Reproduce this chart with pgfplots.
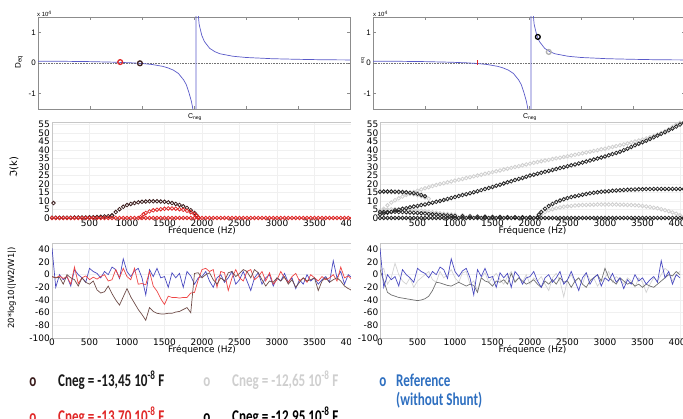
\documentclass[border=0pt]{standalone}
\usepackage{pgfplots}
\pgfplotsset{compat=1.18}
\usepackage{pgfplotstable}
\usepackage{graphicx}
\usepackage{fontspec}
\setmainfont{DejaVu Sans}
\newfontfamily\lib{Liberation Sans}
\newfontfamily\carl{Carlito}

\definecolor{dbrown}{HTML}{3A1C1C}
\definecolor{mred}{HTML}{E02828}
\definecolor{lgrey}{HTML}{CFCFCF}
\definecolor{dgrey}{HTML}{262626}
\definecolor{lblue}{HTML}{5A5AC8}
\definecolor{nblue}{HTML}{4A4AC0}
\definecolor{nred}{HTML}{EE4444}
\definecolor{nbrown}{HTML}{6E4C48}
\definecolor{ngrey}{HTML}{D2D2D2}
\definecolor{ndgrey}{HTML}{707070}
\definecolor{legblue}{HTML}{2E6FC0}

% 20*log10(|W2/W1|), one column per configuration
\pgfplotstableread{
f blue red brown lgrey dgrey
0 42 -3 -3 5 8
50 -20 -5 -5 10 -10
100 0 -2 -4 -15 -28
150 -8 -6 -15 -5 -32
200 -3 -3 0 18 -34
250 -18 -15 -5 0 -36
300 8 12 -8 -10 -37
350 0 -14 -18 -15 -38
400 -5 -5 -5 -5 -39
450 -12 -2 -12 -20 -40
500 10 -8 -15 -10 -41
550 5 -4 -10 -5 -40
600 2 -7 -24 0 -38
650 -5 -3 -29 5 -34
700 5 0 -27 -8 -25
750 0 -10 -18 -12 -12
800 12 -8 -30 5 -13
850 8 8 -40 -5 -15
900 -6 -5 -48 0 -17
950 25 10 -35 8 -18
1000 5 -3 -22 -5 -15
1050 -3 -8 -35 -12 -12
1100 6 10 -45 3 -15
1150 10 -15 -55 5 -18
1200 -5 -14 -63 -15 -15
1250 -32 -16 -72 -10 -17
1300 8 5 -52 -25 -28
1350 -3 -18 -58 -5 -5
1400 10 -26 -61 3 -10
1450 -5 -38 -62 -12 -12
1500 -3 -47 -62 -5 -18
1550 -20 -34 -61 2 -10
1600 3 -36 -61 -8 -12
1650 -5 -36 -59 -15 -8
1700 2 -37 -58 -3 -15
1750 -20 -36 -55 5 2
1800 5 -36 -52 -10 -12
1850 -2 -29 -60 -5 -5
1900 -15 -28 2 -12 -10
1950 -5 -8 3 0 -15
2000 -3 8 -5 -15 -12
2050 5 10 0 -5 -8
2100 -10 5 3 -10 -15
2150 -20 8 -8 -3 -20
2200 -5 -20 -15 -15 -10
2250 0 5 -5 -25 -15
2300 -12 3 -10 -5 -8
2350 -5 -25 3 2 -15
2400 5 -5 5 -10 -5
2450 -15 8 -3 -35 -12
2500 -8 -5 2 -8 -10
2550 5 -10 8 0 -20
2600 -10 5 5 -12 -10
2650 -25 8 -5 -5 -5
2700 -5 -8 8 -15 -15
2750 3 -3 3 3 -20
2800 -15 5 -8 -8 -10
2850 -5 -10 -18 -5 -5
2900 0 3 -10 -18 0
2950 -18 -15 -12 -10 -10
3000 -5 -8 -5 -5 10
3050 -10 5 -10 5 -5
3100 2 -5 -3 -12 -10
3150 -12 -12 -15 -3 -15
3200 -5 -3 -8 -8 -5
3250 -22 2 -20 -15 -10
3300 -8 -10 -12 -5 -15
3350 -15 -5 -5 -10 -12
3400 0 -12 -10 -20 -18
3450 -10 0 -8 -5 -15
3500 -5 -5 -5 -12 -20
3550 -15 -10 -25 -28 -15
3600 -8 -3 -10 -15 -18
3650 -3 -8 -5 -5 -20
3700 -12 -5 -12 -10 -15
3750 22 0 -8 0 -10
3800 -5 -10 -5 10 -5
3850 5 12 -10 5 0
3900 -15 -5 -18 -10 -2
3950 0 -2 -22 0 5
4000 -5 -8 -25 5 0
}\noise

\pgfplotsset{
  ml/.style={scale only axis, anchor=south west, width=312bp, height=92bp,
    xmin=0, xmax=6, ymin=-1.5, ymax=1.5,
    xtick={1,2,3,4,5}, xticklabels={}, ytick={-1,0,1}, yticklabels={-1,0,1},
    tick align=inside, major tick length=3bp,
    axis line style={draw=black!45, line width=0.6bp},
    tick style={draw=black!45, line width=0.5bp},
    yticklabel style={font=\lib\fontsize{8}{8}\selectfont, inner sep=2bp}},
  mp/.style={scale only axis, anchor=south west, width=300bp,
    xmin=0, xmax=4000,
    axis line style={draw=black!22, line width=0.6bp},
    grid=major, major grid style={draw=black!6, line width=0.4bp},
    major tick length=0pt,
    ticklabel style={font=\fontsize{9}{9}\selectfont},
    xlabel style={at={(axis description cs:0.5,0)}, anchor=center, yshift=-13bp,
      font=\fontsize{9}{9}\selectfont}},
  circ/.style={only marks, mark=o, mark size=1.8bp, mark options={line width=0.8bp}},
  big/.style={only marks, mark=o, mark size=2.4bp, mark options={line width=1.3bp}},
}

\newcommand\legtext[2]{\scalebox{0.73}[1]{\carl\bfseries\fontsize{18}{18}\selectfont\color{#1}#2}}

\begin{document}
\begin{tikzpicture}

% ---------- row 1, left
\begin{axis}[ml, at={(38bp,310bp)}]
\addplot[densely dotted, black!55, line width=0.6bp] coordinates {(0,0)(6,0)};
\addplot[lblue, line width=0.7bp] coordinates {
(0,0.06)(0.5,0.055)(1,0.045)(1.5,0.025)(1.8,0.005)(2,-0.015)(2.2,-0.05)(2.4,-0.11)
(2.5,-0.16)(2.6,-0.23)(2.7,-0.34)(2.8,-0.55)(2.85,-0.7)(2.9,-0.95)(2.95,-1.25)
(2.99,-1.6)(3.04,-1.7)(3.04,1.7)(3.08,1.6)(3.1,1.25)(3.15,0.9)(3.2,0.7)(3.3,0.48)
(3.4,0.37)(3.5,0.3)(3.75,0.22)(4,0.18)(4.5,0.14)(5,0.12)(5.5,0.105)(6,0.1)};
\addplot[big, color=mred] coordinates {(1.58,0.03)};
\addplot[big, color=dbrown] coordinates {(1.96,-0.01)};
\end{axis}

% ---------- row 2, left
\begin{axis}[mp, at={(52bp,201bp)}, height=96bp, ymin=0, ymax=56.5, clip=false,
  ytick={0,5,10,15,20,25,30,35,40,45,50,55},
  yticklabels={0,5,10,15,20,25,30,35,40,45,50,55},
  xtick={500,1000,1500,2000,2500,3000,3500,4000},
  xticklabels={500,1000,1500,2000,2500,3000,3500,4000},
  xticklabel style={inner sep=1.5bp},
  yticklabel style={inner sep=2bp},
  xlabel={Fréquence (Hz)}]
\addplot[circ, color=dbrown] coordinates {(20,8.8)
(0,0.2)(50,0.2)(100,0.2)(150,0.2)(200,0.2)(250,0.2)(300,0.25)(350,0.25)(400,0.3)(450,0.3)
(500,0.4)(550,0.5)(600,0.6)(650,0.7)(700,0.9)(750,1.1)(800,1.5)};
\addplot[circ, color=dbrown] coordinates {
(800,1.5)(850,3.5)(900,5.2)(950,6.6)(1000,7.6)(1050,8.3)(1100,8.8)(1150,9.2)(1200,9.5)
(1250,9.7)(1300,9.8)(1350,9.8)(1400,9.8)(1450,9.7)(1500,9.5)(1550,9.2)(1600,8.8)
(1650,8.3)(1700,7.7)(1750,6.9)(1800,5.9)(1850,4.6)(1900,3.0)(1930,1.5)(1950,0.3)};
\addplot[circ, color=mred] coordinates {
(1180,0.5)(1220,2.2)(1250,3.0)(1300,3.9)(1350,4.5)(1400,4.9)(1450,5.2)(1500,5.4)
(1550,5.6)(1600,5.6)(1650,5.5)(1700,5.2)(1750,4.8)(1800,4.2)(1850,3.4)(1900,2.3)
(1930,1.2)(1950,0.3)};
\addplot[circ, color=mred] coordinates {
(0,0)(50,0)(100,0)(150,0)(200,0)(250,0)(300,0)(350,0)(400,0)(450,0)(500,0)(550,0)
(600,0)(650,0)(700,0)(750,0)(800,0)(850,0)(900,0)(950,0)(1000,0)(1050,0)(1100,0)
(1150,0)(1200,0)(1250,0)(1300,0)(1350,0)(1400,0)(1450,0)(1500,0)(1550,0)(1600,0)
(1650,0)(1700,0)(1750,0)(1800,0)(1850,0)(1900,0)(1950,0)(2000,0)(2050,0)(2100,0)
(2150,0)(2200,0)(2250,0)(2300,0)(2350,0)(2400,0)(2450,0)(2500,0)(2550,0)(2600,0)
(2650,0)(2700,0)(2750,0)(2800,0)(2850,0)(2900,0)(2950,0)(3000,0)(3050,0)(3100,0)
(3150,0)(3200,0)(3250,0)(3300,0)(3350,0)(3400,0)(3450,0)(3500,0)(3550,0)(3600,0)
(3650,0)(3700,0)(3750,0)(3800,0)(3850,0)(3900,0)(3950,0)(4000,0)};
\end{axis}

% ---------- row 3, left
\begin{axis}[mp, at={(52bp,81bp)}, height=95bp, ymin=-100, ymax=50,
  ytick={-100,-80,-60,-40,-20,0,20,40},
  yticklabels={-100,-80,-60,-40,-20,0,20,40},
  xtick={0,500,1000,1500,2000,2500,3000,3500,4000},
  xticklabels={0,500,1000,1500,2000,2500,3000,3500,4000},
  xticklabel style={inner sep=1bp},
  yticklabel style={inner sep=2bp},
  xlabel={Fréquence (Hz)}, xlabel style={yshift=1bp}]
\addplot[nblue, line width=0.7bp] table[x=f, y=blue] {\noise};
\addplot[nred, line width=0.7bp] table[x=f, y=red] {\noise};
\addplot[nbrown, line width=0.7bp] table[x=f, y=brown] {\noise};
\end{axis}

% the right-hand pictures sit over the right end of the left ones
\fill[white] (351bp,55bp) rectangle (373bp,300bp);

% ---------- row 1, right
\begin{axis}[ml, at={(373bp,310bp)}]
\addplot[densely dotted, black!55, line width=0.6bp] coordinates {(0,0)(6,0)};
\addplot[lblue, line width=0.7bp] coordinates {
(0,0.06)(0.5,0.055)(1,0.045)(1.5,0.025)(1.8,0.005)(2,-0.015)(2.2,-0.05)(2.4,-0.11)
(2.5,-0.16)(2.6,-0.23)(2.7,-0.34)(2.8,-0.55)(2.85,-0.7)(2.9,-0.95)(2.95,-1.25)
(2.99,-1.6)(3.04,-1.7)(3.04,1.7)(3.08,1.6)(3.1,1.25)(3.15,0.9)(3.2,0.7)(3.3,0.48)
(3.4,0.37)(3.5,0.3)(3.75,0.22)(4,0.18)(4.5,0.14)(5,0.12)(5.5,0.105)(6,0.1)};
\addplot[only marks, mark=|, mark size=2.5bp, mark options={line width=0.8bp}, color=mred] coordinates {(2.01,0)};
\addplot[big, color=lgrey!85!black] coordinates {(3.38,0.36)};
\addplot[big, color=black] coordinates {(3.17,0.85)};
\end{axis}

% ---------- row 2, right
\begin{axis}[mp, at={(380bp,201bp)}, width=305bp, xmax=4067, height=96bp, ymin=0, ymax=56.5, clip=false,
  ytick={0,5,10,15,20,25,30,35,40,45,50,55},
  yticklabels={0,5,10,15,20,25,30,35,40,45,50,55},
  xtick={500,1000,1500,2000,2500,3000,3500,4000},
  xticklabels={500,1000,1500,2000,2500,3000,3500,4000},
  xticklabel style={inner sep=1.5bp},
  yticklabel style={inner sep=1.5bp},
  xlabel={Fréquence (Hz)}]
\addplot[circ, color=lgrey] coordinates {
(0,3)(50,5.5)(100,7.5)(150,9.1)(200,10.5)(250,11.6)(300,12.6)(350,13.6)(400,14.5)
(450,15.3)(500,16.1)(550,16.8)(600,17.5)(650,18.1)(700,18.8)(750,19.4)(800,20.0)
(850,20.5)(900,21.0)(950,21.5)(1000,22.0)(1050,22.5)(1100,23.0)(1150,23.5)(1200,24.0)
(1250,24.5)(1300,25.0)(1350,25.5)(1400,26.0)(1450,26.5)(1500,27.0)(1550,27.5)(1600,28.0)
(1650,28.5)(1700,29.0)(1750,29.5)(1800,30.0)(1850,30.5)(1900,31.0)(1950,31.5)(2000,32.0)
(2050,32.5)(2100,32.9)(2150,33.4)(2200,33.8)(2250,34.2)(2300,34.7)(2350,35.1)(2400,35.5)
(2450,35.9)(2500,36.4)(2550,36.8)(2600,37.2)(2650,37.7)(2700,38.1)(2750,38.6)(2800,39.0)
(2850,39.5)(2900,39.9)(2950,40.4)(3000,40.8)(3050,41.3)(3100,41.8)(3150,42.3)(3200,42.8)
(3250,43.3)(3300,43.9)(3350,44.4)(3400,45.0)(3450,45.6)(3500,46.2)(3550,46.8)(3600,47.5)
(3650,48.3)(3700,49.2)(3750,50.1)(3800,51.0)(3850,52.2)(3900,53.5)(3950,55.0)(4000,56.0)};
\addplot[circ, color=lgrey] coordinates {
(0,15.2)(50,15.3)(100,15.3)(150,15.2)(200,15.1)(250,15.0)(300,14.8)(350,14.6)(400,14.3)
(450,13.9)(500,13.4)(550,12.8)(600,12.1)(650,11.3)};
\addplot[circ, color=lgrey] coordinates {
(0,4.3)(50,4.7)(100,5.0)(150,5.1)(200,5.2)(250,5.2)(300,5.2)(350,5.1)(400,5.0)(450,4.8)
(500,4.6)(550,4.3)(600,4.0)(650,3.7)(700,3.4)(750,3.1)(800,2.8)(850,2.5)(900,2.3)
(950,2.1)(1000,1.9)(1100,1.6)(1200,1.3)(1300,1.1)(1400,0.9)(1500,0.8)(1600,0.7)
(1700,0.6)(1800,0.5)(1900,0.4)(2000,0.3)};
\addplot[circ, color=lgrey] coordinates {
(2100,0.3)(2150,2)(2200,3.5)(2250,4.5)(2300,5.2)(2350,5.8)(2400,6.2)(2450,6.6)(2500,6.9)
(2550,7.1)(2600,7.3)(2650,7.5)(2700,7.6)(2750,7.7)(2800,7.8)(2850,7.8)(2900,7.9)
(2950,7.9)(3000,7.9)(3050,7.9)(3100,7.9)(3150,7.9)(3200,7.8)(3250,7.8)(3300,7.7)
(3350,7.6)(3400,7.5)(3450,7.3)(3500,7.1)(3550,6.8)(3600,6.5)(3650,6.1)(3700,5.7)
(3750,5.2)(3800,4.6)(3850,4.0)(3900,3.3)(3950,2.5)(4000,1.6)(4050,0.8)};
\addplot[circ, color=dgrey] coordinates {
(0,2.0)(50,2.6)(100,3.1)(150,3.6)(200,4.5)(250,4.9)(300,5.4)(350,5.8)(400,6.3)(450,6.7)
(500,7.1)(550,7.6)(600,8.0)(650,8.5)(700,9.0)(750,9.5)(800,10.0)(850,10.6)(900,11.2)
(950,11.8)(1000,12.3)(1050,12.9)(1100,13.5)(1150,14.0)(1200,14.6)(1250,15.2)(1300,15.8)
(1350,16.4)(1400,17.0)(1450,17.6)(1500,18.3)(1550,19.0)(1600,19.6)(1650,20.3)(1700,21.0)
(1750,21.6)(1800,22.3)(1850,23.0)(1900,23.6)(1950,24.3)(2000,25.0)(2050,25.5)(2100,26.1)
(2150,26.6)(2200,27.2)(2250,27.7)(2300,28.3)(2350,28.8)(2400,29.4)(2450,29.9)(2500,30.5)
(2550,31.0)(2600,31.5)(2650,32.1)(2700,32.6)(2750,33.2)(2800,33.8)(2850,34.4)(2900,35.0)
(2950,35.6)(3000,36.2)(3050,36.9)(3100,37.6)(3150,38.3)(3200,39.0)(3250,39.9)(3300,40.8)
(3350,41.8)(3400,42.8)(3450,43.7)(3500,44.6)(3550,45.5)(3600,46.5)(3650,47.5)(3700,48.5)
(3750,49.5)(3800,50.5)(3850,51.6)(3900,52.7)(3950,53.8)(4000,55.0)(4050,56.0)};
\addplot[circ, color=dgrey] coordinates {
(0,15.5)(50,15.6)(100,15.6)(150,15.6)(200,15.5)(250,15.4)(300,15.3)(350,15.1)(400,14.9)
(450,14.6)(500,14.2)(550,13.6)(600,12.8)};
\addplot[circ, color=dgrey] coordinates {
(0,3.5)(50,3.6)(100,3.6)(150,3.6)(200,3.6)(250,3.5)(300,3.5)(350,3.4)(400,3.3)(450,3.1)
(500,3.0)(550,2.8)(600,2.6)(650,2.4)(700,2.2)(750,2.0)(800,1.8)(850,1.6)(900,1.5)
(950,1.3)(1000,1.2)(1100,1.0)(1200,0.9)(1300,0.8)(1400,0.7)(1500,0.6)(1600,0.6)
(1700,0.5)(1800,0.5)(1900,0.4)(2000,0.4)};
\addplot[circ, color=dgrey] coordinates {
(2100,0.5)(2120,2)(2150,3.5)(2200,5.5)(2250,7)(2300,8.3)(2350,9.4)(2400,10.3)(2450,11)
(2500,11.7)(2550,12.3)(2600,12.8)(2650,13.3)(2700,13.7)(2750,14.1)(2800,14.5)(2850,14.8)
(2900,15.1)(2950,15.4)(3000,15.6)(3050,15.8)(3100,16)(3150,16.2)(3200,16.3)(3250,16.5)
(3300,16.6)(3350,16.7)(3400,16.8)(3450,16.9)(3500,16.9)(3550,17)(3600,17)(3650,17.1)
(3700,17.1)(3750,17.1)(3800,17.1)(3850,17.1)(3900,17.1)(3950,17.1)(4000,17.1)(4050,17.1)};
\addplot[circ, color=dgrey] coordinates {
(0,0)(50,0)(100,0)(150,0)(200,0)(250,0)(300,0)(350,0)(400,0)(450,0)(500,0)(550,0)
(600,0)(650,0)(700,0)(750,0)(800,0)(850,0)(900,0)(950,0)(1000,0)(1050,0)(1100,0)
(1150,0)(1200,0)(1250,0)(1300,0)(1350,0)(1400,0)(1450,0)(1500,0)(1550,0)(1600,0)
(1650,0)(1700,0)(1750,0)(1800,0)(1850,0)(1900,0)(1950,0)(2000,0)(2050,0)(2100,0)
(2150,0)(2200,0)(2250,0)(2300,0)(2350,0)(2400,0)(2450,0)(2500,0)(2550,0)(2600,0)
(2650,0)(2700,0)(2750,0)(2800,0)(2850,0)(2900,0)(2950,0)(3000,0)(3050,0)(3100,0)
(3150,0)(3200,0)(3250,0)(3300,0)(3350,0)(3400,0)(3450,0)(3500,0)(3550,0)(3600,0)
(3650,0)(3700,0)(3750,0)(3800,0)(3850,0)(3900,0)(3950,0)(4000,0)(4050,0)};
\end{axis}

% ---------- row 3, right
\begin{axis}[mp, at={(380bp,81bp)}, width=305bp, xmax=4067, height=95bp, ymin=-100, ymax=50,
  ytick={-100,-80,-60,-40,-20,0,20,40},
  yticklabels={-100,-80,-60,-40,-20,0,20,40},
  xtick={0,500,1000,1500,2000,2500,3000,3500,4000},
  xticklabels={0,500,1000,1500,2000,2500,3000,3500,4000},
  xticklabel style={inner sep=1bp},
  yticklabel style={inner sep=1.5bp},
  xlabel={Fréquence (Hz)}, xlabel style={yshift=1bp}]
\addplot[ngrey, line width=0.7bp] table[x=f, y=lgrey] {\noise};
\addplot[ndgrey, line width=0.7bp] table[x=f, y=dgrey] {\noise};
\addplot[nblue, line width=0.7bp] table[x=f, y=blue] {\noise};
\end{axis}

% axis labels of the top row and the left side
\node[fill=white, inner sep=1bp, font=\lib\fontsize{7}{7}\selectfont] at (195bp,302bp) {C\textsubscript{neg}};
\node[fill=white, inner sep=1bp, font=\lib\fontsize{7}{7}\selectfont] at (530bp,302bp) {C\textsubscript{neg}};
\node[anchor=west, font=\lib\fontsize{6}{6}\selectfont, inner sep=0] at (37bp,405bp) {x 10\textsuperscript{4}};
\node[anchor=west, font=\lib\fontsize{6}{6}\selectfont, inner sep=0] at (373bp,405bp) {x 10\textsuperscript{4}};
\node[rotate=90, font=\lib\fontsize{8}{8}\selectfont] at (19bp,357bp) {D\textsubscript{eq}};
\node[rotate=90, font=\lib\fontsize{5}{5}\selectfont] at (363bp,358bp) {eq};
\node[rotate=90, font=\fontsize{10}{10}\selectfont] at (14bp,252bp) {ℑ(k)};
\node[rotate=90, font=\fontsize{8.5}{8.5}\selectfont] at (12bp,131bp) {20*log10(|W2/W1|)};

% legend
\node[anchor=base] at (33bp,33bp) {\legtext{dbrown}{o}};
\node[anchor=base west, inner sep=0] at (58bp,33bp) {\legtext{black!90}{Cneg = -13,45 10\textsuperscript{-8} F}};
\node[anchor=base] at (33bp,-3bp) {\legtext{mred}{o}};
\node[anchor=base west, inner sep=0] at (58bp,-3bp) {\legtext{mred}{Cneg = -13.70 10\textsuperscript{-8} F}};
\node[anchor=base] at (207bp,33bp) {\legtext{lgrey}{o}};
\node[anchor=base west, inner sep=0] at (232bp,33bp) {\legtext{lgrey}{Cneg = -12,65 10\textsuperscript{-8} F}};
\node[anchor=base] at (207bp,-3bp) {\legtext{black}{o}};
\node[anchor=base west, inner sep=0] at (232bp,-3bp) {\legtext{black}{Cneg = -12.95 10\textsuperscript{-8} F}};
\node[anchor=base] at (383bp,33bp) {\legtext{legblue}{o}};
\node[anchor=base west, inner sep=0] at (396bp,33bp) {\legtext{legblue}{Reference}};
\node[anchor=base west, inner sep=0] at (396bp,14bp) {\legtext{legblue}{(without Shunt)}};

\pgfresetboundingbox
\path[use as bounding box] (0,0) rectangle (683bp,419bp);
\end{tikzpicture}
\end{document}
